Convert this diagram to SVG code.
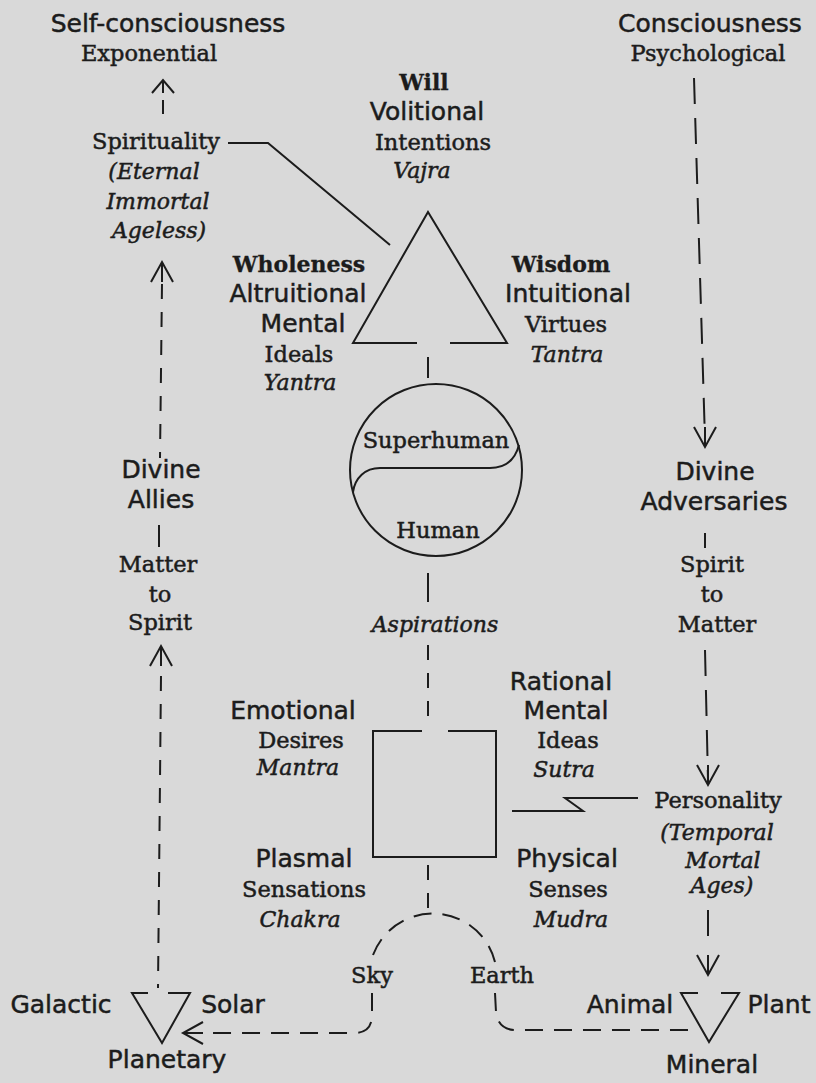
<svg xmlns="http://www.w3.org/2000/svg" width="816" height="1083" viewBox="0 0 816 1083">
<style>
text{fill:#1c1c1c;stroke:#1c1c1c;stroke-width:0.5;text-anchor:middle}
.s{font-family:"DejaVu Sans","Liberation Sans",sans-serif;font-size:25px}
.r{font-family:"DejaVu Serif","Liberation Serif",serif;font-size:22.5px}
.i{font-style:italic;font-size:22px}
.b{font-weight:bold;font-size:22px;stroke-width:0.3}
.ln{fill:none;stroke:#1c1c1c;stroke-width:2}
.d1{stroke-dasharray:15 13}
.d2{stroke-dasharray:26 14}
.d3{stroke-dasharray:18 11}
</style>
<defs>
<path id="arr" class="ln" d="M-11 20 L0 0 L11 20 M0 0 L0 20"/>
</defs>
<rect width="816" height="1083" fill="#d9d9d9"/>

<g id="connectors">
  <!-- left column -->
  <path class="ln" d="M152 93 L163 80 L174 93 M163 80 L163 93 M163 100 L163 114"/>
  <use href="#arr" x="162" y="262"/>
  <line class="ln d1" x1="162" y1="284" x2="160" y2="458"/>
  <line class="ln" x1="159" y1="525" x2="159" y2="547"/>
  <use href="#arr" x="161" y="646"/>
  <line class="ln d1" x1="161" y1="676" x2="158" y2="988"/>
  <!-- right column -->
  <line class="ln d2" x1="694" y1="78" x2="705" y2="440"/>
  <use href="#arr" transform="translate(705 447) rotate(180)"/>
  <line class="ln" x1="705" y1="533" x2="705" y2="548"/>
  <line class="ln d2" x1="705" y1="650" x2="708" y2="780"/>
  <use href="#arr" transform="translate(708 785) rotate(180)"/>
  <line class="ln" x1="708" y1="910" x2="708" y2="936"/>
  <use href="#arr" transform="translate(708 975) rotate(180)"/>
  <!-- Spirituality to triangle -->
  <path class="ln" d="M228 143 L268 143 L390 245"/>
  <!-- centre column -->
  <line class="ln" x1="428" y1="357" x2="428" y2="378"/>
  <line class="ln" x1="428" y1="573" x2="428" y2="602"/>
  <line class="ln d1" x1="428" y1="645" x2="428" y2="728"/>
  <line class="ln d1" x1="428" y1="865" x2="428" y2="910"/>
  <!-- Z connector -->
  <path class="ln" stroke-width="2.5" d="M638 798 L565 798 L583 811 L512 811"/>
  <!-- Sky / Earth -->
  <path class="ln d3" d="M373 955 A 64 64 0 0 1 495 962"/>
  <path class="ln d3" d="M372 993 L372 1015 Q372 1033 354 1033 L188 1033"/>
  <use href="#arr" transform="translate(183 1033) rotate(-90)"/>
  <path class="ln d3" d="M495 993 L496 1012 Q498 1030 516 1030 L693 1030"/>
</g>

<g id="n-selfconsciousness">
  <text class="s" x="168" y="32">Self-consciousness</text>
  <text class="r" x="149" y="61">Exponential</text>
</g>
<g id="n-spirituality">
  <text class="r" x="156" y="149">Spirituality</text>
  <text class="r i" x="154" y="179">(Eternal</text>
  <text class="r i" x="158" y="209">Immortal</text>
  <text class="r i" x="159" y="238">Ageless)</text>
</g>
<g id="n-consciousness">
  <text class="s" x="710" y="32">Consciousness</text>
  <text class="r" x="708" y="61">Psychological</text>
</g>
<g id="n-will">
  <text class="r b" x="424" y="90">Will</text>
  <text class="s" x="427" y="120">Volitional</text>
  <text class="r" x="433" y="150">Intentions</text>
  <text class="r i" x="422" y="178">Vajra</text>
</g>
<g id="n-triangle">
  <path class="ln" d="M417 343 L353 343 L428 212 L507 343 L450 343"/>
</g>
<g id="n-wholeness">
  <text class="r b" x="299" y="272">Wholeness</text>
  <text class="s" x="298" y="302">Altruitional</text>
  <text class="s" x="303" y="332">Mental</text>
  <text class="r" x="299" y="362">Ideals</text>
  <text class="r i" x="300" y="390">Yantra</text>
</g>
<g id="n-wisdom">
  <text class="r b" x="561" y="272">Wisdom</text>
  <text class="s" x="568" y="302">Intuitional</text>
  <text class="r" x="566" y="332">Virtues</text>
  <text class="r i" x="567" y="362">Tantra</text>
</g>
<g id="n-circle">
  <circle class="ln" cx="436" cy="470" r="86"/>
  <path class="ln" stroke-width="2.5" d="M353 492 C355 478 365 468 380 468 L490 468 C505 468 515 460 519 445"/>
  <text class="r" x="436" y="448">Superhuman</text>
  <text class="r" x="438" y="538">Human</text>
</g>
<g id="n-divine-allies">
  <text class="s" x="161" y="478">Divine</text>
  <text class="s" x="161" y="508">Allies</text>
</g>
<g id="n-matter-to-spirit">
  <text class="r" x="158" y="572">Matter</text>
  <text class="r" x="160" y="602">to</text>
  <text class="r" x="160" y="630">Spirit</text>
</g>
<g id="n-divine-adversaries">
  <text class="s" x="715" y="480">Divine</text>
  <text class="s" x="714" y="510">Adversaries</text>
</g>
<g id="n-spirit-to-matter">
  <text class="r" x="712" y="572">Spirit</text>
  <text class="r" x="712" y="602">to</text>
  <text class="r" x="717" y="632">Matter</text>
</g>
<g id="n-aspirations">
  <text class="r i" x="435" y="632">Aspirations</text>
</g>
<g id="n-emotional">
  <text class="s" x="293" y="719">Emotional</text>
  <text class="r" x="301" y="748">Desires</text>
  <text class="r i" x="298" y="775">Mantra</text>
</g>
<g id="n-rational">
  <text class="s" x="561" y="690">Rational</text>
  <text class="s" x="566" y="719">Mental</text>
  <text class="r" x="568" y="748">Ideas</text>
  <text class="r i" x="564" y="777">Sutra</text>
</g>
<g id="n-box">
  <path class="ln" d="M422 731 L373 731 L373 857 L496 857 L496 731 L448 731"/>
</g>
<g id="n-personality">
  <text class="r" x="718" y="808">Personality</text>
  <text class="r i" x="717" y="840">(Temporal</text>
  <text class="r i" x="723" y="868">Mortal</text>
  <text class="r i" x="722" y="893">Ages)</text>
</g>
<g id="n-plasmal">
  <text class="s" x="304" y="867">Plasmal</text>
  <text class="r" x="304" y="897">Sensations</text>
  <text class="r i" x="300" y="927">Chakra</text>
</g>
<g id="n-physical">
  <text class="s" x="567" y="867">Physical</text>
  <text class="r" x="568" y="897">Senses</text>
  <text class="r i" x="571" y="927">Mudra</text>
</g>
<g id="n-sky">
  <text class="r" x="372" y="983">Sky</text>
</g>
<g id="n-earth">
  <text class="r" x="502" y="983">Earth</text>
</g>
<g id="n-cosmic">
  <path class="ln" d="M148 993 L132 993 L162 1043 L190 993 L168 993"/>
  <text class="s" x="61" y="1013">Galactic</text>
  <text class="s" x="233" y="1013">Solar</text>
  <text class="s" x="167" y="1068">Planetary</text>
</g>
<g id="n-kingdoms">
  <path class="ln" d="M698 993 L681 993 L709 1042 L739 993 L721 993"/>
  <text class="s" x="630" y="1013">Animal</text>
  <text class="s" x="779" y="1013">Plant</text>
  <text class="s" x="712" y="1073">Mineral</text>
</g>
</svg>
